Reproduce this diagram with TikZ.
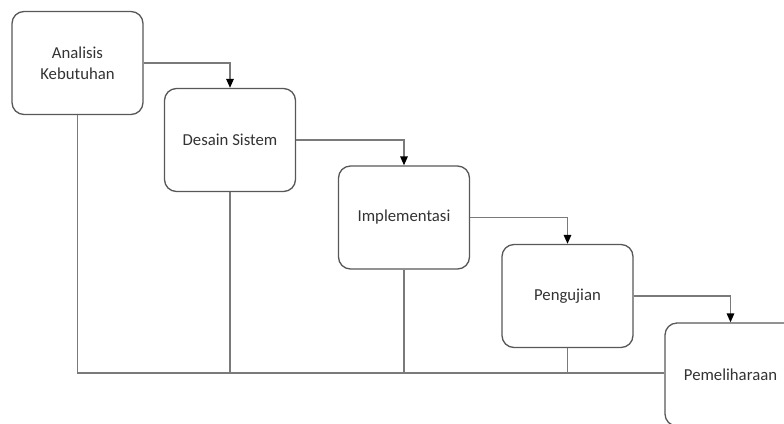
\documentclass[tikz,border=0pt]{standalone}
\usepackage{fontspec}
\setmainfont{Carlito}
\usetikzlibrary{arrows.meta}
\definecolor{boxline}{HTML}{585858}
\definecolor{conn}{HTML}{7A7A7A}
\definecolor{txt}{HTML}{333333}
\tikzset{
  phase/.style={draw=boxline, line width=1.3bp, rounded corners=12bp, fill=white,
    minimum width=131bp, minimum height=103bp, inner sep=0pt, align=center,
    text=txt, font=\fontsize{16.8}{21}\selectfont},
  flow/.style={draw=conn, line width=1.5bp, -{Triangle[length=9bp,width=7.5bp,color=black]}},
  back/.style={draw=conn, line width=1.5bp}
}
\begin{document}
\begin{tikzpicture}[x=1bp,y=-1bp]
\useasboundingbox (0,0) rectangle (784,423);
\clip (0,0) rectangle (784,423);
\fill[white] (0,0) rectangle (784,423);
\coordinate (base) at (77.5,373);
\node[phase] (b1) at (77.5,63) {Analisis\\Kebutuhan};
\node[phase] (b2) at (230,140) {Desain Sistem};
\node[phase] (b3) at (404,217.5) {Implementasi};
\node[phase] (b4) at (567.5,296) {Pengujian};
\node[phase] (b5) at (730.5,374.5) {Pemeliharaan};
% feedback lines
\draw[back] (b1.south) -- (b1.south |- base) -- (b5.west |- base);
\draw[back] (b2.south) -- (b2.south |- base);
\draw[back] (b3.south) -- (b3.south |- base);
\draw[back] (b4.south) -- (b4.south |- base);
% forward arrows
\draw[flow] (b1.east) -| (b2.north);
\draw[flow] (b2.east) -| (b3.north);
\draw[flow] (b3.east) -| (b4.north);
\draw[flow] (b4.east) -| (b5.north);
\end{tikzpicture}
\end{document}
